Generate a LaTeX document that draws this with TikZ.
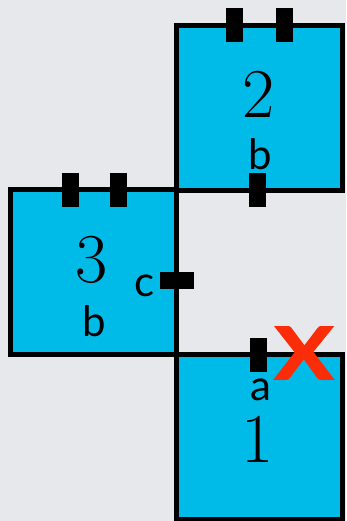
\documentclass[tikz,border=0pt]{standalone}
\usepackage{fontspec}
\usepackage{tikz}
\usetikzlibrary{calc}
\newfontfamily\tagfont{Lato}
\newfontfamily\crossfont{Lato}[BoldFeatures={FakeBold=2.5}]
\definecolor{PieceCyan}{HTML}{00BBE8}
\definecolor{BackGray}{HTML}{E6E8EC}
\definecolor{CrossRed}{HTML}{FA2D08}

\begin{document}
\begin{tikzpicture}[x=1pt, y=1pt,
    piece/.style={draw=black, fill=PieceCyan, line width=5pt,
      minimum width=166pt, minimum height=165pt, inner sep=0pt},
    tabv/.style={fill=black, minimum width=17pt, minimum height=34pt, inner sep=0pt},
    tabh/.style={fill=black, minimum width=34pt, minimum height=17pt, inner sep=0pt},
    digit/.style={font=\fontsize{70}{70}\selectfont, inner sep=0pt, anchor=base},
    letter/.style={font=\tagfont\fontsize{42}{42}\selectfont, inner sep=0pt, anchor=base}]
    \fill[BackGray] (0,0) rectangle (346,521);
    \useasboundingbox (0,0) rectangle (346,521);
    % the three pieces
    \node[piece] (piece2) at (259.75,413.25) {};
    \node[piece] (piece3) at (93.5,248.5) {};
    \node[piece] (piece1) at (259.75,83.5) {};
    % tabs on the edges
    \node[tabv] (tab2a) at (234.5,495.5) {};
    \node[tabv] (tab2b) at (284.5,495.5) {};
    \node[tabv] (tab2c) at (257.5,331) {};
    \node[tabv] (tab3a) at (70.5,331) {};
    \node[tabv] (tab3b) at (118.5,331) {};
    \node[tabh] (tab3c) at (177,240.5) {};
    \node[tabv] (tab1a) at (258,166) {};
    % numbers and edge letters
    \node[digit] (num2) at (258.5,403) {2};
    \node[digit] (num3) at (92,238) {3};
    \node[digit] (num1) at (258,58) {1};
    \node[letter] (lab2b) at (260,351) {b};
    \node[letter] (lab3c) at (145,224) {c};
    \node[letter] (lab3b) at (94,184) {b};
    \node[letter] (lab1a) at (261,120) {a};
    \node[font=\crossfont\bfseries\fontsize{72}{72}\selectfont, text=CrossRed,
      inner sep=0pt, xscale=1.2] (cross) at (304,168) {X};
\end{tikzpicture}
\end{document}
